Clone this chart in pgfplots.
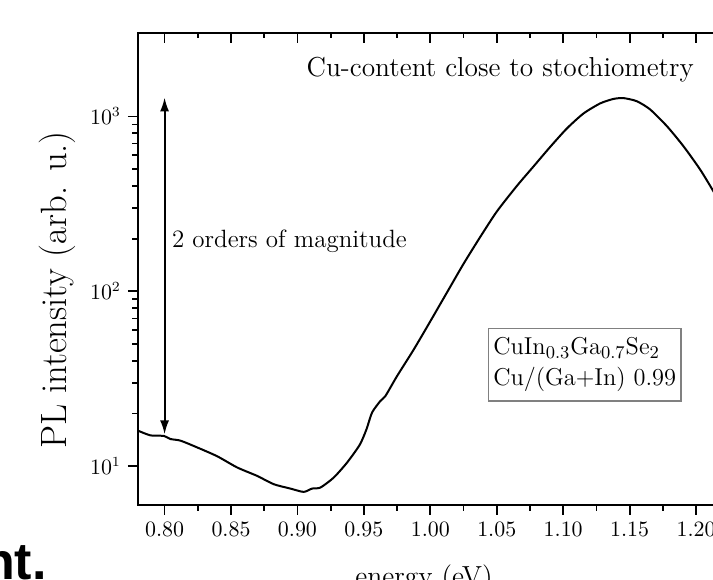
\documentclass[border=0pt]{standalone}
\usepackage{fontspec}
\newfontfamily\artfont{Liberation Sans}
\usepackage{pgfplots}
\pgfplotsset{compat=1.18}
\usetikzlibrary{arrows.meta}
\pgfplotstableread{
x y
0.7790 16.0
0.7805 15.9
0.7895 15.0
0.7995 14.9
0.8045 14.3
0.8120 14.0
0.8246 12.8
0.8396 11.4
0.8547 9.83
0.8697 8.80
0.8822 7.89
0.8947 7.45
0.9047 7.13
0.9110 7.45
0.9173 7.55
0.9273 8.61
0.9374 10.5
0.9470 13.3
0.9520 16.3
0.9562 20.3
0.9624 23.6
0.9662 25.2
0.9750 32.8
0.9874 46.3
1.0000 67.4
1.0126 98.7
1.0250 143.6
1.0376 204.8
1.0502 287
1.0652 401
1.0777 518
1.0902 669.3
1.1028 854
1.1153 1040
1.1278 1187
1.1378 1259
1.1454 1273
1.1554 1222
1.1654 1097
1.1780 881
1.1905 676
1.2030 498
1.2130 374
1.2250 260
1.2400 160
1.2500 115
}\pldata
\begin{document}
\begin{tikzpicture}
\useasboundingbox (0,0) rectangle (356.5pt,-289.5pt);
\clip (0,0) rectangle (356.5pt,-289.5pt);
\begin{axis}[
  scale only axis,
  width=312.25pt, height=236pt,
  at={(69pt,-252.5pt)}, anchor=south west,
  xmin=0.78, xmax=1.25,
  ymin=6, ymax=3000,
  ymode=log,
  axis line style={line width=1pt},
  every tick/.append style={line width=0.9pt, black},
  major tick length=5pt,
  minor tick length=2.75pt,
  xtick={0.80,0.85,0.90,0.95,1.00,1.05,1.10,1.15,1.20,1.25},
  minor x tick num=1,
  tick align=outside,
  xtick pos=left, ytick pos=left,
  ytick={10,100,1000},
  tick label style={font=\fontsize{10.5}{12}\selectfont},
  xticklabel style={/pgf/number format/fixed, /pgf/number format/fixed zerofill, /pgf/number format/precision=2},
  xlabel={energy (eV)},
  xlabel style={at={(axis description cs:0.458,-0.1706)}, anchor=base, font=\fontsize{13.8}{16}\selectfont},
  ylabel={PL intensity (arb. u.)},
  ylabel style={at={(axis description cs:-0.1297,0.4555)}, anchor=center, font=\fontsize{18.3}{21}\selectfont},
]
\addplot[black, line width=1pt, no marks, smooth, tension=0.4] table[x=x,y=y] {\pldata};
\draw[line width=1pt, {Latex[length=7pt,width=4.5pt]}-{Latex[length=7pt,width=4.5pt]}] (axis cs:0.80,15.2) -- (axis cs:0.80,1285);
\node[anchor=west, font=\fontsize{12.5}{15}\selectfont, inner sep=0pt] at (axis cs:0.8053,193) {2 orders of magnitude};
\node[anchor=base, font=\fontsize{13.7}{16}\selectfont, inner sep=0pt] at (axis cs:1.0526,1693) {Cu-content close to stochiometry};
\node[draw=gray, line width=0.6pt, align=left, inner xsep=2.5pt, inner ysep=4.5pt, font=\fontsize{12.2}{15.5}\selectfont] at (axis cs:1.1162,38.0) {CuIn$_{0.3}$Ga$_{0.7}$Se$_{2}$\\Cu/(Ga+In) 0.99};
\end{axis}
\begin{axis}[
  scale only axis,
  width=312.25pt, height=236pt,
  at={(69pt,-252.5pt)}, anchor=south west,
  xmin=0.78, xmax=1.25,
  ymin=6, ymax=3000,
  ymode=log,
  axis line style={line width=1pt},
  every tick/.append style={line width=0.9pt, black},
  major tick length=5pt,
  minor tick length=2.75pt,
  xtick={0.80,0.85,0.90,0.95,1.00,1.05,1.10,1.15,1.20,1.25},
  minor x tick num=1,
  tick align=inside,
  xtick pos=right,
  ytick=\empty,
  yminorticks=false,
  xticklabels={},
]
\end{axis}
\node[anchor=base east, inner sep=0pt, font=\artfont\bfseries\fontsize{26}{30}\selectfont] at (23.5pt,-289.5pt) {nt.};
\end{tikzpicture}
\end{document}
